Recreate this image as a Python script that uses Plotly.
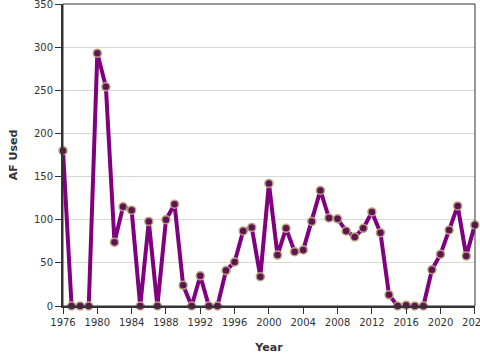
import plotly.graph_objects as go

years = list(range(1976, 2025))
af_used = [180, 0, 0, 0, 293, 254, 74, 115, 111, 0, 98, 0,
           100, 118, 24, 0, 35, 0, 0, 41, 51, 87, 91, 34,
           142, 59, 90, 63, 65, 98, 134, 102, 101, 87, 80, 90,
           109, 85, 13, 0, 1, 0, 0, 42, 60, 88, 116, 58, 94]

x_ticks = list(range(1976, 2025, 4))
y_ticks = list(range(0, 351, 50))

fig = go.Figure()
fig.add_trace(go.Scatter(
    x=years, y=af_used, mode="lines+markers",
    line=dict(color="#800080", width=4),
    marker=dict(size=8, color="#5e1450", line=dict(color="#b8a27e", width=1.5)),
    cliponaxis=False,
    showlegend=False,
))

font = dict(family="DejaVu Sans, Verdana, sans-serif", size=10, color="#333")
fig.update_layout(
    width=480, height=360,
    margin=dict(l=63, r=5, t=4, b=54, autoexpand=False),
    plot_bgcolor="white", paper_bgcolor="white",
    font=font,
    xaxis=dict(
        range=[1976, 2024.02], tickvals=x_ticks, showgrid=False, zeroline=False,
        showline=True, linecolor="#333", linewidth=2, automargin=False,
        ticks="outside", ticklen=6, tickcolor="#333", ticklabeloverflow="allow",
        title=dict(text="<b>Year</b>", font=dict(size=11, color="#333"), standoff=16),
    ),
    yaxis=dict(
        range=[0, 350], tickvals=y_ticks, showgrid=True, gridcolor="#d8d8d8",
        zeroline=False, showline=True, linecolor="#333", linewidth=2, automargin=False,
        ticks="outside", ticklen=6, tickcolor="#333", ticklabeloverflow="allow",
        title=dict(text="<b>AF Used</b>", font=dict(size=11, color="#333"), standoff=14),
    ),
    shapes=[dict(type="rect", xref="paper", yref="paper", x0=0, x1=1, y0=0, y1=1,
                 line=dict(color="#333", width=1), layer="above")],
)

fig.write_html("out.html", config={"displayModeBar": False})
with open("out.html", encoding="utf-8") as f:
    html = f.read()
html = html.replace("<body>", '<body style="margin:0;padding:0;overflow:hidden">', 1)
with open("out.html", "w", encoding="utf-8") as f:
    f.write(html)
